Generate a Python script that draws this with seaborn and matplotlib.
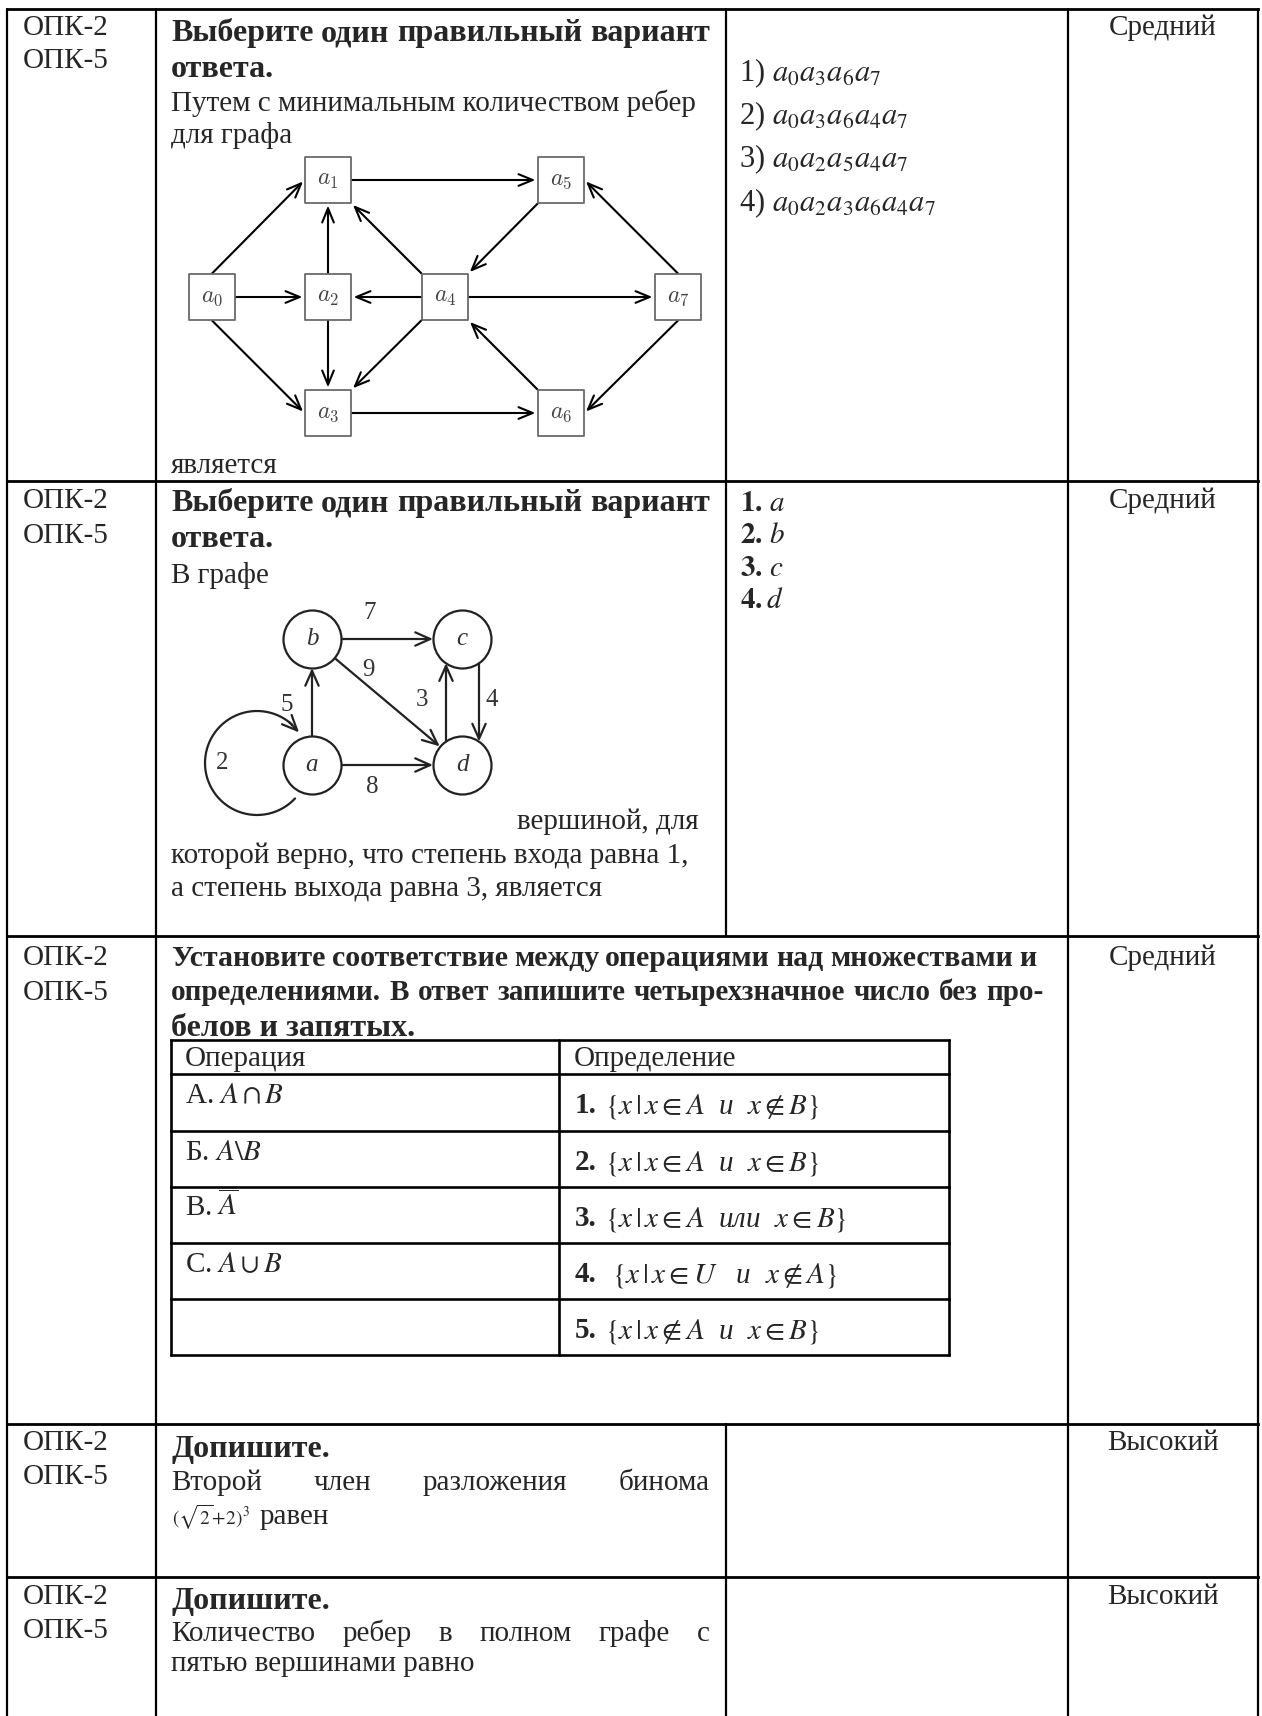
import numpy as np
import pandas as pd
import matplotlib
matplotlib.use("Agg")
import matplotlib.pyplot as plt
import seaborn as sns

# ---------------- data ----------------
competences = ["ОПК-2", "ОПК-5"]
levels = ["Средний", "Средний", "Средний", "Высокий", "Высокий"]

q1_bold = ["Выберите один правильный вариант", "ответа."]
q1_text = ["Путем с минимальным количеством ребер", "для графа"]
q1_tail = "является"
q1_options = ["1) $a_0a_3a_6a_7$", "2) $a_0a_3a_6a_4a_7$",
              "3) $a_0a_2a_5a_4a_7$", "4) $a_0a_2a_3a_6a_4a_7$"]

g1_nodes = ["a0", "a1", "a2", "a3", "a4", "a5", "a6", "a7"]
g1_labels = ["$a_0$", "$a_1$", "$a_2$", "$a_3$", "$a_4$", "$a_5$", "$a_6$", "$a_7$"]
g1_x = [212, 328, 328, 328, 445, 561, 561, 678]
g1_y = [297, 180, 297, 413, 297, 180, 413, 297]
g1_edges = [("a0", "a1"), ("a0", "a2"), ("a0", "a3"), ("a2", "a1"), ("a2", "a3"),
            ("a4", "a2"), ("a4", "a1"), ("a1", "a5"), ("a5", "a4"), ("a7", "a5"),
            ("a4", "a7"), ("a4", "a3"), ("a6", "a4"), ("a7", "a6"), ("a3", "a6")]

q2_bold = ["Выберите один правильный вариант", "ответа."]
q2_text1 = "В графе"
q2_text2 = ["вершиной, для", "которой верно, что степень входа равна 1,",
            "а степень выхода равна 3, является"]
q2_options = [r"$\mathbf{1.}\,a$", r"$\mathbf{2.}\,b$", r"$\mathbf{3.}\,c$", r"$\mathbf{4.}d$"]

g2_nodes = ["a", "b", "c", "d"]
g2_x = [312, 312, 462, 462]
g2_y = [765, 639, 639, 765]
g2_edges = [("a", "a"), ("a", "b"), ("b", "c"), ("b", "d"), ("d", "c"), ("c", "d"), ("a", "d")]
g2_weights = ["2", "5", "7", "9", "3", "4", "8"]
g2_wx = [222, 287, 370, 368, 422, 492, 372]
g2_wy = [763, 705, 613, 670, 700, 700, 787]

q3_bold = [["Установите", "соответствие", "между", "операциями", "над", "множествами", "и"],
           ["определениями.", "В", "ответ", "запишите", "четырехзначное", "число", "без", "про-"],
           ["белов и запятых."]]
q3_head = ["Операция", "Определение"]
q3_ops = [r"А. $A\cap B$", r"Б. $A\backslash B$", r"В. $\overline{A}$", r"С. $A\cup B$", ""]
q3_nums = ["1.", "2.", "3.", "4.", "5."]
q3_defs = [r"$\{x\,|\,x\in A$  и  $x\notin B\}$",
           r"$\{x\,|\,x\in A$  и  $x\in B\}$",
           r"$\{x\,|\,x\in A$  или  $x\in B\}$",
           r"$\{x\,|\,x\in U$   и  $x\notin A\}$",
           r"$\{x\,|\,x\notin A$  и  $x\in B\}$"]

q4_bold = "Допишите."
q4_line1 = ["Второй", "член", "разложения", "бинома"]
q4_formula = r"$(\sqrt{2}\!+\!2)^3$"
q4_line2 = "равен"

q5_bold = "Допишите."
q5_line1 = ["Количество", "ребер", "в", "полном", "графе", "с"]
q5_line2 = "пятью вершинами равно"

# ---------------- setup ----------------
sns.set_theme(style="white")
plt.rcParams["font.family"] = ["Liberation Serif", "DejaVu Serif"]
plt.rcParams["mathtext.fontset"] = "stix"

W, H = 1262, 1716
fig = plt.figure(figsize=(W / 100, H / 100), dpi=100)
ax = fig.add_axes([0, 0, 1, 1])
ax.set_xlim(0, W)
ax.set_ylim(H, 0)
ax.axis("off")
renderer = fig.canvas.get_renderer()

FS = 21      # regular text
FB = 23      # bold headings


def txt(x, yc, s, size=FS, **kw):
    off = 0.29 * size * 100 / 72
    return ax.text(x, yc + off, s, fontsize=size, va="baseline", **kw)


def justify(words, x0, x1, yc, size=FS, **kw):
    while True:
        ts = [txt(0, yc, w, size=size, **kw) for w in words]
        ws = [t.get_window_extent(renderer).width for t in ts]
        gap = (x1 - x0 - sum(ws)) / max(len(ws) - 1, 1)
        if gap >= 0.2 * size * 100 / 72 or size < 10:
            break
        for t in ts:
            t.remove()
        size -= 0.5
    x = x0
    for t, w in zip(ts, ws):
        t.set_x(x)
        x += w + gap


# ---------------- table grid ----------------
XL, XC1, XC2, XC3, XR = 7, 156, 726, 1068, 1258
YT, R1, R2, R3, R4 = 9, 481, 936, 1424, 1577
for y in [YT, R1, R2, R3, R4]:
    ax.plot([XL, XR], [y, y], color="black", lw=2.0, solid_capstyle="projecting")
for x in [XL, XC1, XC3, XR]:
    ax.plot([x, x], [YT, H + 5], color="black", lw=1.6)
ax.plot([XC2, XC2], [YT, R2], color="black", lw=1.6)
ax.plot([XC2, XC2], [R3, H + 5], color="black", lw=1.6)

# competence + level columns
opk_rows = [(27, 60), (500, 535), (957, 992), (1442, 1476), (1596, 1630)]
for (y1, y2), lev in zip(opk_rows, levels):
    txt(23, y1, competences[0])
    txt(23, y2, competences[1])
    txt(1163, y1, lev, ha="center")

# ---------------- question 1 ----------------
justify(q1_bold[0].split(), 171, 710, 32, size=FB, fontweight="bold")
txt(171, 68, q1_bold[1], size=FB, fontweight="bold")
txt(171, 103, q1_text[0])
txt(171, 135, q1_text[1])
txt(171, 465, q1_tail)
for s, y in zip(q1_options, [72, 115, 158, 202]):
    txt(739, y, s, size=22)

# graph 1
h1 = 23.5
pos1 = {n: (x, y) for n, x, y in zip(g1_nodes, g1_x, g1_y)}
df1 = pd.DataFrame({"x": g1_x, "y": g1_y, "node": g1_nodes})
sns.scatterplot(data=df1, x="x", y="y", marker="s", s=(2 * h1 * 0.72) ** 2,
                color="white", edgecolor="#6a6a6a", linewidth=1.3, zorder=5, ax=ax,
                legend=False)
for n, lab in zip(g1_nodes, g1_labels):
    x, y = pos1[n]
    ax.text(x, y + 1, lab, fontsize=17, color="#444444", ha="center", va="center",
            math_fontfamily="cm", zorder=6)


def clip_box(c, d, h):
    t = h / max(abs(d[0]), abs(d[1]))
    return c[0] + d[0] * t, c[1] + d[1] * t


for s, t in g1_edges:
    (sx, sy), (tx, ty) = pos1[s], pos1[t]
    if sx != tx and sy != ty and (s in ("a0", "a7") or t in ("a0", "a7")):
        p0 = (sx, sy + h1 * np.sign(ty - sy))
        p1 = (tx - h1 * np.sign(tx - sx), ty)
    else:
        d = (tx - sx, ty - sy)
        p0 = clip_box((sx, sy), d, h1)
        p1 = clip_box((tx, ty), (-d[0], -d[1]), h1)
    ax.annotate("", xy=p1, xytext=p0,
                arrowprops=dict(arrowstyle="->,head_length=0.85,head_width=0.35",
                                lw=1.5, color="black", shrinkA=0, shrinkB=1.5),
                zorder=3)

# ---------------- question 2 ----------------
justify(q2_bold[0].split(), 171, 710, 502, size=FB, fontweight="bold")
txt(171, 538, q2_bold[1], size=FB, fontweight="bold")
txt(171, 575, q2_text1)
txt(699, 821, q2_text2[0], ha="right")
txt(171, 855, q2_text2[1])
txt(171, 888, q2_text2[2])
for s, y in zip(q2_options, [503, 535, 568, 600]):
    txt(740, y, s, size=21)

# graph 2
r2 = 29
pos2 = {n: (x, y) for n, x, y in zip(g2_nodes, g2_x, g2_y)}
df2 = pd.DataFrame({"x": g2_x, "y": g2_y, "node": g2_nodes})
sns.scatterplot(data=df2, x="x", y="y", marker="o", s=(2 * r2 * 0.72) ** 2,
                color="white", edgecolor="#222222", linewidth=1.6, zorder=5, ax=ax,
                legend=False)
for n in g2_nodes:
    x, y = pos2[n]
    ax.text(x, y, n, fontsize=18, style="italic", color="#333333",
            ha="center", va="center", zorder=6)
arrow2 = dict(arrowstyle="->,head_length=0.9,head_width=0.4", lw=1.6,
              color="#222222", shrinkA=0, shrinkB=0)
offsets = {("d", "c"): -16, ("c", "d"): 17}
for (s, t) in g2_edges:
    (sx, sy), (tx, ty) = pos2[s], pos2[t]
    if s == t:
        cx, cy, rr = sx - 55, sy - 2, 52
        th = np.deg2rad(np.linspace(-43, -324, 200))
        lx = cx + rr * np.cos(th)
        ly = cy - rr * np.sin(th)
        ax.plot(lx[:-8], ly[:-8], color="#222222", lw=1.6, zorder=3)
        ax.annotate("", xy=(lx[-1], ly[-1]), xytext=(lx[-12], ly[-12]),
                    arrowprops=arrow2, zorder=3)
        continue
    if (s, t) in offsets:
        dx = offsets[(s, t)]
        dy = np.sqrt(r2 ** 2 - dx ** 2)
        sgn = np.sign(ty - sy)
        p0 = (sx + dx, sy + sgn * dy)
        p1 = (tx + dx, ty - sgn * dy)
    else:
        d = np.array([tx - sx, ty - sy], dtype=float)
        u = d / np.hypot(*d)
        p0 = (sx + r2 * u[0], sy + r2 * u[1])
        p1 = (tx - r2 * u[0], ty - r2 * u[1])
    ax.annotate("", xy=p1, xytext=p0, arrowprops=arrow2, zorder=3)
for w, x, y in zip(g2_weights, g2_wx, g2_wy):
    ax.text(x, y, w, fontsize=18, color="#333333", ha="center", va="center")

# ---------------- question 3 ----------------
justify(q3_bold[0], 171, 1036, 957, size=FB, fontweight="bold")
justify(q3_bold[1], 171, 1044, 992, size=FB, fontweight="bold")
txt(171, 1027, q3_bold[2][0], size=FB, fontweight="bold")

tx0, txm, tx1 = 171, 559, 949
ty = [1040, 1074, 1131, 1187, 1243, 1299, 1355]
for y in ty:
    ax.plot([tx0, tx1], [y, y], color="black", lw=1.9, solid_capstyle="projecting")
for x in [tx0, txm, tx1]:
    ax.plot([x, x], [ty[0], ty[-1]], color="black", lw=1.9)
txt(185, 1058, q3_head[0])
txt(574, 1058, q3_head[1])
for i, (op, num, d) in enumerate(zip(q3_ops, q3_nums, q3_defs)):
    top = ty[i + 1]
    if op:
        txt(185, top + 21, op)
    txt(575, top + 31, num, fontweight="bold")
    txt(605 if num != "4." else 612, top + 31, d, style="italic")

# ---------------- question 4 ----------------
txt(171, 1448, q4_bold, size=FB, fontweight="bold")
justify(q4_line1, 171, 710, 1482)
t = txt(172, 1519, q4_formula, size=14)
wq = t.get_window_extent(renderer).width
txt(172 + wq + 10, 1516, q4_line2)

# ---------------- question 5 ----------------
txt(171, 1600, q5_bold, size=FB, fontweight="bold")
justify(q5_line1, 171, 710, 1633)
txt(171, 1663, q5_line2)

fig.savefig("out.png", dpi=100, facecolor="white")
